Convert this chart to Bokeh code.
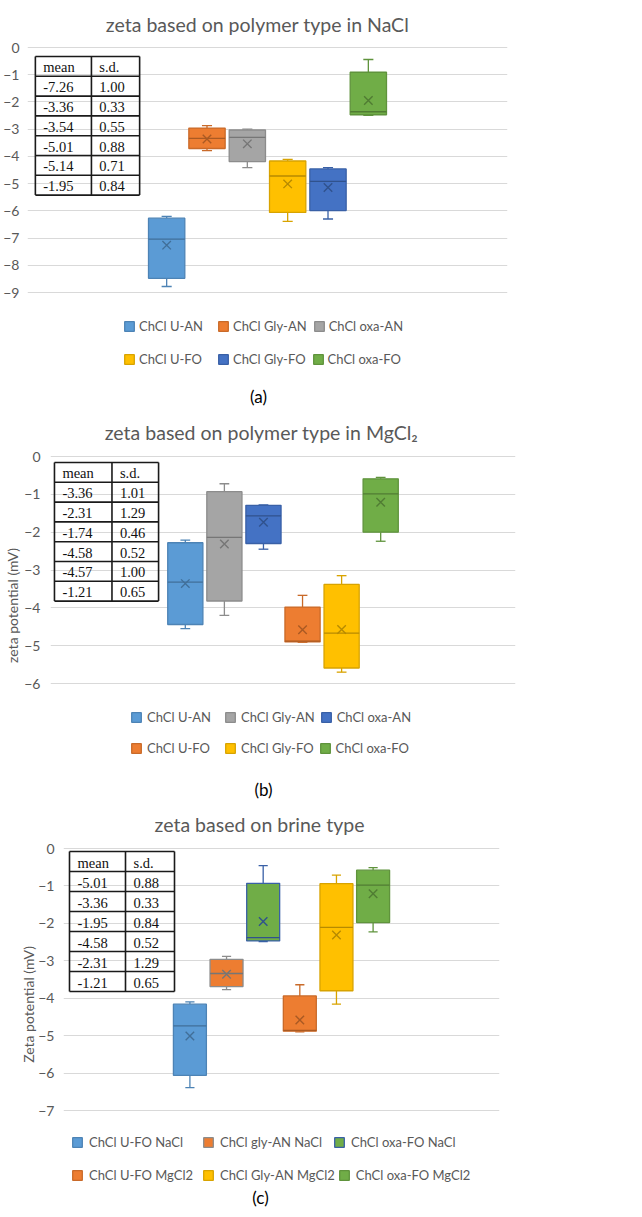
import numpy as np
from bokeh.plotting import figure
from bokeh.models import Range1d, FixedTicker, Label, Legend, LegendItem, ColumnDataSource, Title
from bokeh.layouts import column
from bokeh.core.properties import value
from bokeh.embed import file_html
from bokeh.resources import INLINE

# ---------------- colours ----------------
BLUE = "#5B9BD5"
ORANGE = "#ED7D31"
GRAY = "#A5A5A5"
GOLD = "#FFC000"
BLUE2 = "#4472C4"
GREEN = "#70AD47"

# ---------------- panel (a): polymer type in NaCl ----------------
a_labels = ["ChCl U-AN", "ChCl Gly-AN", "ChCl oxa-AN", "ChCl U-FO", "ChCl Gly-FO", "ChCl oxa-FO"]
a_fill = [BLUE, ORANGE, GRAY, GOLD, BLUE2, GREEN]
a_edge = [BLUE, ORANGE, GRAY, GOLD, BLUE2, GREEN]
a_whisker_hi = [-6.20, -2.87, -3.00, -4.11, -4.41, -0.44]
a_q3 = [-6.27, -2.96, -3.03, -4.17, -4.46, -0.91]
a_median = [-7.04, -3.34, -3.30, -4.72, -4.92, -2.36]
a_q1 = [-8.48, -3.71, -4.19, -6.06, -5.99, -2.47]
a_whisker_lo = [-8.78, -3.79, -4.41, -6.39, -6.30, -2.49]
a_mean = [-7.26, -3.36, -3.54, -5.01, -5.14, -1.95]
a_table_mean = ["-7.26", "-3.36", "-3.54", "-5.01", "-5.14", "-1.95"]
a_table_sd = ["1.00", "0.33", "0.55", "0.88", "0.71", "0.84"]

# ---------------- panel (b): polymer type in MgCl2 ----------------
b_labels = ["ChCl U-AN", "ChCl Gly-AN", "ChCl oxa-AN", "ChCl U-FO", "ChCl Gly-FO", "ChCl oxa-FO"]
b_fill = [BLUE, GRAY, BLUE2, ORANGE, GOLD, GREEN]
b_edge = [BLUE, GRAY, BLUE2, ORANGE, GOLD, GREEN]
b_whisker_hi = [-2.21, -0.72, -1.28, -3.67, -3.15, -0.55]
b_q3 = [-2.28, -0.93, -1.29, -3.98, -3.38, -0.59]
b_median = [-3.32, -2.14, -1.57, -4.88, -4.67, -0.99]
b_q1 = [-4.44, -3.82, -2.30, -4.90, -5.59, -2.00]
b_whisker_lo = [-4.55, -4.20, -2.45, -4.91, -5.70, -2.24]
b_mean = [-3.36, -2.31, -1.74, -4.58, -4.57, -1.21]
b_table_mean = ["-3.36", "-2.31", "-1.74", "-4.58", "-4.57", "-1.21"]
b_table_sd = ["1.01", "1.29", "0.46", "0.52", "1.00", "0.65"]

# ---------------- panel (c): brine type ----------------
c_labels = ["ChCl U-FO NaCl", "ChCl gly-AN NaCl", "ChCl oxa-FO NaCl",
            "ChCl U-FO MgCl2", "ChCl Gly-AN MgCl2", "ChCl oxa-FO MgCl2"]
c_fill = [BLUE, ORANGE, GREEN, ORANGE, GOLD, GREEN]
c_edge = [BLUE, GRAY, BLUE2, ORANGE, GOLD, GREEN]
c_whisker_hi = [-4.10, -2.88, -0.46, -3.64, -0.71, -0.51]
c_q3 = [-4.16, -2.96, -0.93, -3.94, -0.94, -0.58]
c_median = [-4.74, -3.34, -2.38, -4.86, -2.11, -0.98]
c_q1 = [-6.06, -3.69, -2.47, -4.88, -3.80, -1.98]
c_whisker_lo = [-6.39, -3.77, -2.49, -4.90, -4.16, -2.23]
c_mean = [-5.01, -3.36, -1.95, -4.58, -2.31, -1.21]
c_table_mean = ["-5.01", "-3.36", "-1.95", "-4.58", "-2.31", "-1.21"]
c_table_sd = ["0.88", "0.33", "0.84", "0.52", "1.29", "0.65"]

TXT = "#595959"
FONT = "Lato"
FIG_W = 626
X_START, X_END = -3.45, 8.45
HALF_W = 0.45
CAP_W = 0.125


def darken(hexc, f):
    h = hexc.lstrip("#")
    r, g, b = (int(h[i:i + 2], 16) for i in (0, 2, 4))
    return "#%02x%02x%02x" % (int(r * f), int(g * f), int(b * f))


def make_panel(L, labels, fill, edge, hi, q3, med, q1, lo, mean, tmean, tsd):
    # all layout numbers in L are page pixels; oy is the figure's top on the page
    oy = L["oy"]
    ox = 8
    fig_h = L["fig_h"]
    left_px = L["plot_left"] - ox
    fw = L["plot_right"] - L["plot_left"]
    top_px = L["zero_y"] - oy                   # canvas y of the 0 line
    data_h = L["min_y"] - L["zero_y"]           # pixels from 0 to ymin
    ymin = L["ymin"]
    dpp = -ymin / data_h
    y_start = ymin - (fig_h - top_px - data_h) * dpp
    y_end = top_px * dpp

    p = figure(width=FIG_W, height=fig_h, output_backend="svg", toolbar_location=None,
               title=None, x_axis_location=None,
               x_range=Range1d(X_START, X_END), y_range=Range1d(y_start, y_end),
               min_border_left=left_px, min_border_right=FIG_W - left_px - fw,
               min_border_top=0, min_border_bottom=0)
    p.frame_align = False
    p.outline_line_color = None
    p.background_fill_color = "white"
    p.xgrid.visible = False
    ticker = FixedTicker(ticks=list(range(ymin, 1)))
    p.ygrid.ticker = ticker
    p.ygrid.grid_line_color = "#D9D9D9"
    p.ygrid.grid_line_width = 1
    yax = p.yaxis[0]
    yax.ticker = ticker
    yax.bounds = (ymin, 0)
    yax.axis_line_color = None
    yax.major_tick_line_color = None
    yax.minor_tick_line_color = None
    yax.major_tick_out = 0
    yax.major_tick_in = 0
    yax.major_label_text_font = FONT
    yax.major_label_text_font_size = "14px"
    yax.major_label_text_color = TXT
    yax.major_label_standoff = L["tick_standoff"]
    if L["ylabel"]:
        # y-axis title, centred on the data area (not on the whole canvas)
        canvas_mid = oy + fig_h / 2.0
        data_mid = (L["zero_y"] + L["min_y"]) / 2.0
        p.add_layout(Title(text=L["ylabel"], align="center", offset=canvas_mid - data_mid + L["label_shift"],
                           standoff=L["label_standoff"], text_font=FONT, text_font_size="14px",
                           text_font_style="normal", text_color=TXT), "left")

    x = list(range(len(labels)))
    src = ColumnDataSource(dict(
        x=x,
        left=[v - HALF_W for v in x], right=[v + HALF_W for v in x],
        capl=[v - CAP_W for v in x], capr=[v + CAP_W for v in x],
        hi=hi, q3=q3, med=med, q1=q1, lo=lo, mean=mean,
        fill=fill, edge=[darken(c, 0.85) for c in edge],
        mcol=[darken(c, 0.72) for c in edge],
    ))
    # whiskers
    p.segment(x0="x", x1="x", y0="q3", y1="hi", source=src, line_color="edge", line_width=1.3)
    p.segment(x0="x", x1="x", y0="q1", y1="lo", source=src, line_color="edge", line_width=1.3)
    p.segment(x0="capl", x1="capr", y0="hi", y1="hi", source=src, line_color="edge", line_width=1.3)
    p.segment(x0="capl", x1="capr", y0="lo", y1="lo", source=src, line_color="edge", line_width=1.3)
    # boxes
    boxes = p.quad(left="left", right="right", top="q3", bottom="q1", source=src,
                   fill_color="fill", line_color="edge", line_width=1.3)
    p.segment(x0="left", x1="right", y0="med", y1="med", source=src, line_color="mcol", line_width=1.3)
    p.scatter(x="x", y="mean", source=src, marker="x", size=12, line_color="mcol", line_width=1.4)

    # table of mean / s.d.
    px_x = (X_END - X_START) / fw
    T = L["table"]
    tl = X_START + (T["left"] - L["plot_left"]) * px_x
    tr = X_START + (T["right"] - L["plot_left"]) * px_x
    td = X_START + (T["div"] - L["plot_left"]) * px_x
    tt = -(T["top"] - L["zero_y"]) * dpp
    rh = T["row_h"] * dpp
    nrow = len(tmean) + 1
    tb = tt - nrow * rh
    ys = [tt - k * rh for k in range(nrow + 1)]
    p.segment(x0=[tl] * len(ys), x1=[tr] * len(ys), y0=ys, y1=ys, line_color="#1a1a1a", line_width=1.6)
    p.segment(x0=[tl, td, tr], x1=[tl, td, tr], y0=[tt] * 3, y1=[tb] * 3, line_color="#1a1a1a", line_width=1.6)
    yc = [tt - (k + 0.55) * rh for k in range(nrow)]
    p.text(x=[tl + 8 * px_x] * nrow, y=yc, text=["mean"] + list(tmean),
           text_font=value("Liberation Serif"), text_font_size="14.5px", text_color="#111111",
           text_baseline="middle")
    p.text(x=[td + 8 * px_x] * nrow, y=yc, text=["s.d."] + list(tsd),
           text_font=value("Liberation Serif"), text_font_size="14.5px", text_color="#111111",
           text_baseline="middle")

    def sx(page_x):
        return page_x - L["plot_left"]

    def sy(page_y):
        return fig_h - (page_y - oy)

    # title and caption
    p.add_layout(Label(x=sx(L["title_x"]), y=sy(L["title_y"]), x_units="screen", y_units="screen",
                       text=L["title"], text_font=FONT, text_font_size="19.5px", text_color=TXT,
                       text_align="center", text_baseline="middle"))
    p.add_layout(Label(x=sx(L["cap_x"]), y=sy(L["cap_y"]), x_units="screen", y_units="screen",
                       text=L["caption"], text_font=FONT, text_font_size="17px", text_color="black",
                       text_align="center", text_baseline="middle"))

    # legend: two rows of three
    G = L["legend"]
    items = [LegendItem(label=labels[i], renderers=[boxes], index=i) for i in range(len(labels))]
    for r in range(2):
        lg = Legend(items=items[3 * r:3 * r + 3], orientation="horizontal",
                    location=(sx(G["x"]), sy(G["rows"][r]) - 9),
                    glyph_width=G["glyph"], glyph_height=G["glyph"], label_standoff=G["standoff"],
                    label_width=G["label_w"], label_height=12, spacing=G["spacing"],
                    padding=0, margin=0, border_line_color=None, background_fill_alpha=0,
                    label_text_font=FONT, label_text_font_size="13px", label_text_color=TXT,
                    label_text_baseline="middle")
        p.add_layout(lg)
    return p


# page coordinates of the reference (the canvas starts at page y = oy)
LA = dict(oy=1, fig_h=409, plot_left=27, plot_right=515, zero_y=48, min_y=293, ymin=-9,
          tick_standoff=8, ylabel=None, label_standoff=0, label_shift=0,
          title="zeta based on polymer type in NaCl", title_x=257, title_y=25,
          caption="(a)", cap_x=258, cap_y=397,
          table=dict(left=35, right=141, div=92, top=57, row_h=19.8),
          legend=dict(x=123, rows=[326, 359], glyph=12, standoff=4, label_w=72, spacing=6))
LB = dict(oy=410, fig_h=392, plot_left=54, plot_right=523, zero_y=457, min_y=684, ymin=-6,
          tick_standoff=10, ylabel="zeta potential (mV)", label_standoff=2, label_shift=0,
          title="zeta based on polymer type in MgCl\u2082", title_x=265, title_y=433,
          caption="(b)", cap_x=267, cap_y=790,
          table=dict(left=58, right=163, div=116, top=463, row_h=19.8),
          legend=dict(x=134, rows=[717, 748], glyph=12, standoff=5, label_w=72, spacing=5))
LC = dict(oy=802, fig_h=406, plot_left=71, plot_right=507, zero_y=849, min_y=1111, ymin=-7,
          tick_standoff=9, ylabel="Zeta potential (mV)", label_standoff=-3, label_shift=4,
          title="zeta based on brine type", title_x=267, title_y=825,
          caption="(c)", cap_x=268, cap_y=1198,
          table=dict(left=77, right=182, div=133, top=852, row_h=20),
          legend=dict(x=79, rows=[1142, 1175], glyph=12, standoff=6, label_w=110, spacing=3))

pa = make_panel(LA, a_labels, a_fill, a_edge, a_whisker_hi, a_q3, a_median, a_q1, a_whisker_lo,
                a_mean, a_table_mean, a_table_sd)
pb = make_panel(LB, b_labels, b_fill, b_edge, b_whisker_hi, b_q3, b_median, b_q1, b_whisker_lo,
                b_mean, b_table_mean, b_table_sd)
pc = make_panel(LC, c_labels, c_fill, c_edge, c_whisker_hi, c_q3, c_median, c_q1, c_whisker_lo,
                c_mean, c_table_mean, c_table_sd)

layout = column(pa, pb, pc, spacing=0)
open("out.html", "w").write(file_html(layout, INLINE))
